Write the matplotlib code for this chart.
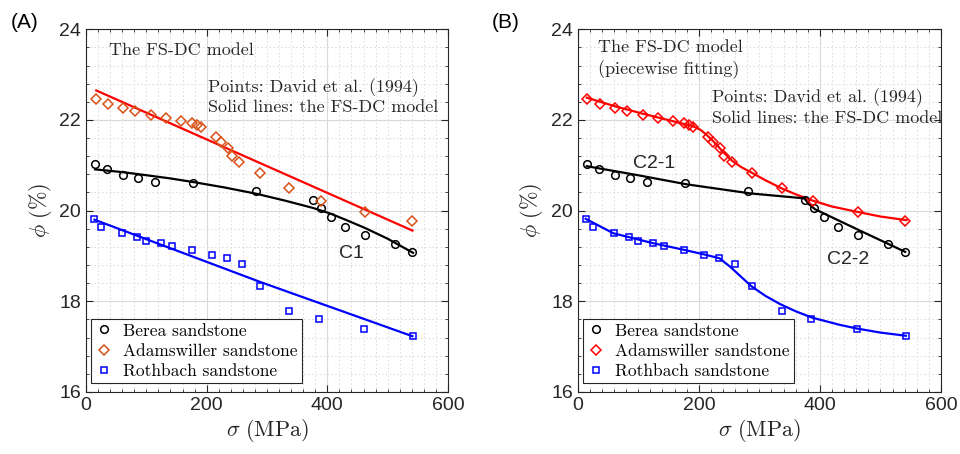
import numpy as np
import matplotlib
matplotlib.use("Agg")
import matplotlib.pyplot as plt
from matplotlib.ticker import MultipleLocator

plt.rcParams['mathtext.fontset'] = 'cm'

# measured porosity vs. effective stress (David et al., 1994)
berea_sigma = [15, 35, 61, 86, 115, 178, 282, 376, 390, 406, 430, 463, 512, 541]
berea_phi = [21.02, 20.91, 20.78, 20.72, 20.64, 20.60, 20.44, 20.24, 20.05, 19.86, 19.65, 19.46, 19.26, 19.08]

adams_sigma = [16, 36, 61, 82, 108, 133, 158, 176, 184, 191, 215, 224, 235, 242, 254, 288, 337, 389, 463, 541]
adams_phi = [22.47, 22.36, 22.27, 22.19, 22.12, 22.05, 21.97, 21.93, 21.88, 21.84, 21.63, 21.52,
             21.38, 21.20, 21.08, 20.83, 20.50, 20.21, 19.97, 19.78]

roth_sigma = [13, 25, 60, 85, 99, 124, 143, 175, 208, 234, 259, 288, 337, 386, 461, 542]
roth_phi = [19.82, 19.64, 19.50, 19.41, 19.34, 19.28, 19.22, 19.13, 19.03, 18.95, 18.82, 18.33,
            17.78, 17.62, 17.40, 17.23]

# FS-DC model curves, single fit (A)
fitA_berea_sigma = [15, 60, 95, 140, 178, 230, 283, 330, 376, 404, 430, 462, 500, 542]
fitA_berea_phi = [20.91, 20.85, 20.79, 20.71, 20.63, 20.51, 20.37, 20.22, 20.06, 19.94, 19.80,
                  19.62, 19.38, 19.07]
fitA_adams_sigma = [17, 541]
fitA_adams_phi = [22.65, 19.56]
fitA_roth_sigma = [14, 288, 541]
fitA_roth_phi = [19.80, 18.43, 17.23]

# FS-DC model curves, piecewise fit (B)
fitB_berea1_sigma = [15, 100, 180, 285, 375]
fitB_berea1_phi = [20.98, 20.78, 20.58, 20.38, 20.27]
fitB_berea2_sigma = [375, 382, 392, 466, 541]
fitB_berea2_phi = [20.26, 20.14, 20.03, 19.56, 19.09]
fitB_adams_sigma = [15, 62, 107, 158, 191, 203, 213, 224, 235, 245, 254, 270, 287, 310, 337,
                    360, 386, 420, 463, 500, 543]
fitB_adams_phi = [22.49, 22.30, 22.14, 21.97, 21.86, 21.78, 21.67, 21.53, 21.37, 21.23, 21.11,
                  20.96, 20.84, 20.67, 20.49, 20.36, 20.23, 20.09, 19.97, 19.87, 19.79]
fitB_roth_sigma = [13, 59, 125, 174, 207, 234, 252, 287, 310, 334, 360, 387, 433, 461, 500, 542]
fitB_roth_phi = [19.82, 19.50, 19.28, 19.14, 19.04, 18.95, 18.76, 18.33, 18.12, 17.94, 17.78,
                 17.64, 17.48, 17.40, 17.31, 17.24]

labels = ['Berea sandstone', 'Adamswiller sandstone', 'Rothbach sandstone']

DARK = '#262626'
SERIF = 'cmr10'


def style_axes(ax):
    ax.set_xlim(0, 600)
    ax.set_ylim(16, 24)
    ax.xaxis.set_major_locator(MultipleLocator(200))
    ax.xaxis.set_minor_locator(MultipleLocator(20))
    ax.yaxis.set_major_locator(MultipleLocator(2))
    ax.yaxis.set_minor_locator(MultipleLocator(0.4))
    ax.grid(which='major', color='#d9d9d9', lw=0.8, ls='-')
    ax.grid(which='minor', color='#d9d9d9', lw=0.7, ls=(0, (1.5, 2.5)))
    ax.set_axisbelow(True)
    ax.tick_params(which='both', direction='in', top=True, right=True, colors=DARK,
                   labelsize=14)
    ax.tick_params(which='major', length=5, width=0.8)
    ax.tick_params(which='minor', length=2.5, width=0.6)
    for lab in ax.get_xticklabels() + ax.get_yticklabels():
        lab.set_family('Liberation Sans')
    for s in ax.spines.values():
        s.set_color(DARK)
        s.set_linewidth(0.8)
    ax.set_xlabel(r'$\sigma\ (\mathrm{MPa})$', fontsize=16, color=DARK, labelpad=2)
    ax.set_ylabel(r'$\phi\ (\%)$', fontsize=16, color=DARK, labelpad=4)


def draw_points(ax, adams_color):
    h1, = ax.plot(berea_sigma, berea_phi, 'o', ms=5.5, mfc='none', mec='black', mew=1.1)
    h2, = ax.plot(adams_sigma, adams_phi, 'D', ms=5.2, mfc='none', mec=adams_color, mew=1.1)
    h3, = ax.plot(roth_sigma, roth_phi, 's', ms=4.8, mfc='none', mec='#0000ff', mew=1.1)
    leg = ax.legend([h1, h2, h3], labels, loc='lower left', bbox_to_anchor=(0.014, 0.024),
                    borderaxespad=0, prop={'family': SERIF, 'size': 12.5},
                    handlelength=1.0, handletextpad=0.6, borderpad=0.25, labelspacing=0.28,
                    fancybox=False, framealpha=1, edgecolor=DARK)
    leg.get_frame().set_linewidth(0.8)


fig = plt.figure(figsize=(9.6, 4.54), dpi=100)
axA = fig.add_axes([0.0896, 0.1366, 0.3771, 0.7989])
axB = fig.add_axes([0.6018, 0.1366, 0.3784, 0.7989])

# panel A: single fit
axA.plot(fitA_adams_sigma, fitA_adams_phi, color='#ff0000', lw=1.6)
axA.plot(fitA_berea_sigma, fitA_berea_phi, color='black', lw=1.6)
axA.plot(fitA_roth_sigma, fitA_roth_phi, color='#0000ff', lw=1.6)
draw_points(axA, '#d95319')
style_axes(axA)
axA.text(38.6, 23.53, 'The FS-DC model', family=SERIF, fontsize=13, va='center', color=DARK)
axA.text(202, 22.72, 'Points: David et al. (1994)', family=SERIF, fontsize=13, va='center', color=DARK)
axA.text(202, 22.28, 'Solid lines: the FS-DC model', family=SERIF, fontsize=13, va='center', color=DARK)
axA.text(440, 19.06, 'C1', family='Liberation Sans', fontsize=14, ha='center', va='center', color=DARK)

# panel B: piecewise fit
axB.plot(fitB_adams_sigma, fitB_adams_phi, color='#ff0000', lw=1.6)
axB.plot(fitB_berea1_sigma, fitB_berea1_phi, color='black', lw=1.6)
axB.plot(fitB_berea2_sigma, fitB_berea2_phi, color='black', lw=1.6)
axB.plot(fitB_roth_sigma, fitB_roth_phi, color='#0000ff', lw=1.6)
draw_points(axB, '#ff0000')
style_axes(axB)
axB.text(34, 23.6, 'The FS-DC model', family=SERIF, fontsize=13, va='center', color=DARK)
axB.text(34, 23.11, '(piecewise fitting)', family=SERIF, fontsize=13, va='center', color=DARK)
axB.text(222, 22.5, 'Points: David et al. (1994)', family=SERIF, fontsize=13, va='center', color=DARK)
axB.text(222, 22.04, 'Solid lines: the FS-DC model', family=SERIF, fontsize=13, va='center', color=DARK)
axB.text(126, 21.04, 'C2-1', family='Liberation Sans', fontsize=14, ha='center', va='center', color=DARK)
axB.text(447, 18.92, 'C2-2', family='Liberation Sans', fontsize=14, ha='center', va='center', color=DARK)

fig.text(0.026, 0.95, '(A)', family='Liberation Sans', fontsize=15, ha='center', va='center')
fig.text(0.527, 0.95, '(B)', family='Liberation Sans', fontsize=15, ha='center', va='center')

fig.savefig('out.png', dpi=100)
